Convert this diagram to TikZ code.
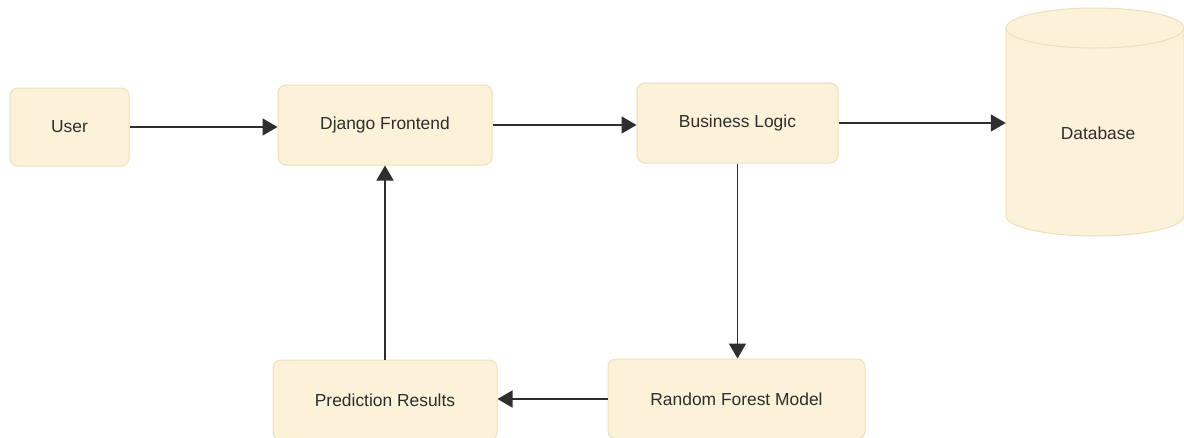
\documentclass[tikz,border=0pt]{standalone}
\usepackage{fontspec}
\setmainfont{Liberation Sans}
\usetikzlibrary{arrows.meta}
\definecolor{boxfill}{HTML}{FCF2DA}
\definecolor{boxline}{HTML}{EEDFBC}
\definecolor{ink}{HTML}{2E2E2E}
\tikzset{
  blk/.style={draw=boxline, fill=boxfill, line width=1pt, rounded corners=8pt,
    inner sep=0pt, text=ink, font=\fontsize{17.4}{20}\selectfont},
  conn/.style={draw=ink, line width=1.5pt, -{Triangle[length=15pt,width=17pt]}},
}
\begin{document}
\begin{tikzpicture}[x=1pt,y=-1pt]
\useasboundingbox (0,0) rectangle (1184,437);
\clip (0,0) rectangle (1184,437);
\fill[white] (0,0) rectangle (1184,437);
\node[blk, minimum width=119pt, minimum height=78pt] (user) at (69.5,127) {User};
\node[blk, minimum width=214pt, minimum height=80pt] (django) at (385,125) {Django Frontend};
\node[blk, minimum width=201pt, minimum height=80pt] (bl) at (737.5,123) {Business Logic};
\node[blk, minimum width=224pt, minimum height=80pt] (pr) at (385,400) {Prediction Results};
\node[blk, minimum width=257pt, minimum height=80pt] (rf) at (736.5,399) {Random Forest Model};
% database cylinder
\node[inner sep=0pt, minimum width=178pt, minimum height=228pt] (dbbox) at (1095,122) {};
\draw[draw=boxline, fill=boxfill, line width=1pt]
  (1006,28) -- (1006,216) arc[start angle=180, end angle=360, x radius=89, y radius=-20]
  -- (1184,28) arc[start angle=0, end angle=180, x radius=89, y radius=-20] -- cycle;
\draw[draw=boxline, line width=1pt]
  (1006,28) arc[start angle=180, end angle=360, x radius=89, y radius=-20];
\node[text=ink, font=\fontsize{17.4}{20}\selectfont] (db) at (1098,133) {Database};
% connectors
\draw[conn] (user.east) -- (user.east -| django.west);
\draw[conn] (django.east) -- (django.east -| bl.west);
\draw[conn] (bl.east) -- (bl.east -| dbbox.west);
\draw[conn] (bl.south) -- (bl.south |- rf.north);
\draw[conn] (rf.west) -- (rf.west -| pr.east);
\draw[conn] (pr.north) -- (pr.north |- django.south);
\end{tikzpicture}
\end{document}
